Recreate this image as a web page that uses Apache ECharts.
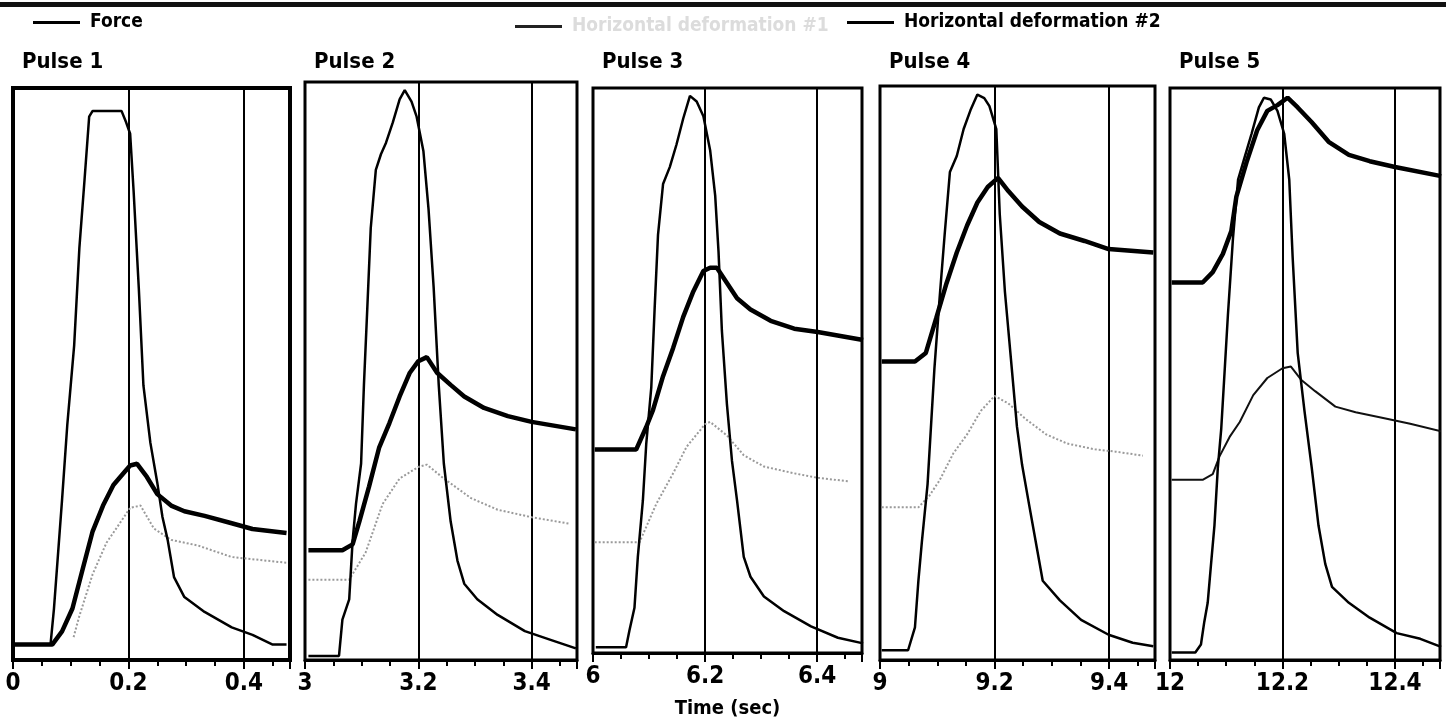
<!DOCTYPE html>
<html>
<head>
<meta charset="utf-8">
<title>Pulses</title>
<script src="https://cdn.jsdelivr.net/npm/echarts@6/dist/echarts.min.js"></script>
<style>
  html, body { margin: 0; padding: 0; background: #fff; }
  #chart { width: 1446px; height: 724px; }
</style>
</head>
<body>
<div id="chart"></div>
<script>
// time offsets of each pulse window (sec) and titles
const pulseStarts = [0, 3, 6, 9, 12]
const pulseTitles = ['Pulse 1', 'Pulse 2', 'Pulse 3', 'Pulse 4', 'Pulse 5']
const seriesNames = ['Force', 'Horizontal deformation #1', 'Horizontal deformation #2']

// values are relative (0-100) to each panel's height
const force1 = [[0.003,2.7],[0.065,2.7],[0.071,9],[0.085,28],[0.094,41],[0.106,55],[0.115,72],[0.124,84],[0.132,95],[0.138,96],[0.188,96],[0.196,94],[0.203,92],[0.209,82],[0.218,65],[0.226,48],[0.238,38],[0.25,31],[0.259,25],[0.268,21],[0.279,14.5],[0.297,11],[0.332,8.4],[0.379,5.7],[0.415,4.4],[0.45,2.7],[0.474,2.7]]
const defA1 = [[0.105,4],[0.115,7.7],[0.138,15],[0.162,20.5],[0.179,23],[0.203,26.6],[0.221,27],[0.244,23],[0.274,21],[0.321,20],[0.379,18],[0.474,17]]
const defB1 = [[0.003,2.7],[0.068,2.7],[0.085,5],[0.103,9],[0.121,16],[0.138,22.5],[0.156,27],[0.174,30.6],[0.191,32.6],[0.203,34],[0.215,34.3],[0.232,32],[0.25,29],[0.274,27],[0.297,26],[0.332,25.2],[0.379,23.9],[0.415,22.9],[0.474,22.2]]

const force2 = [[3.006,0.7],[3.06,0.7],[3.066,7],[3.078,10.5],[3.084,20.6],[3.09,27],[3.099,34],[3.104,47.6],[3.11,61],[3.116,74.7],[3.125,84.8],[3.134,87.5],[3.143,89.5],[3.155,93],[3.167,97],[3.176,98.6],[3.188,96.6],[3.197,94],[3.209,88],[3.218,78],[3.227,64.5],[3.236,47.6],[3.245,34],[3.257,24],[3.269,17.2],[3.281,13.2],[3.304,10.5],[3.34,7.8],[3.388,5],[3.436,3.4],[3.478,2]]
const defA2 = [[3.006,13.9],[3.078,13.9],[3.107,18.6],[3.137,27],[3.167,31.4],[3.2,33.4],[3.215,33.8],[3.245,31.4],[3.293,28],[3.34,26],[3.4,24.7],[3.466,23.6]]
const defB2 = [[3.006,19],[3.066,19],[3.084,20],[3.096,24],[3.113,30],[3.131,36.8],[3.149,41],[3.167,45.6],[3.185,49.7],[3.2,51.7],[3.215,52.4],[3.233,49.7],[3.257,47.6],[3.281,45.6],[3.316,43.6],[3.358,42.2],[3.4,41.2],[3.478,39.9]]

const force3 = [[6.005,1],[6.059,1],[6.065,4],[6.074,8],[6.08,17],[6.089,27],[6.095,37],[6.104,47],[6.11,61],[6.116,74],[6.125,83],[6.137,86],[6.149,90],[6.161,94.6],[6.173,98.6],[6.185,97.6],[6.197,95],[6.209,89],[6.218,81],[6.224,71],[6.23,57],[6.239,44],[6.248,34],[6.257,27],[6.269,17],[6.281,13.5],[6.305,10],[6.341,7.4],[6.389,4.7],[6.437,2.7],[6.482,1.7]]
const defA3 = [[6.003,19.6],[6.083,19.6],[6.113,26.4],[6.143,31.8],[6.167,36.5],[6.2,40.5],[6.209,40.9],[6.239,38.5],[6.269,35],[6.305,33],[6.359,31.8],[6.401,31],[6.455,30.4]]
const defB3 = [[6.003,36],[6.077,36],[6.095,40],[6.107,43],[6.125,49],[6.143,54],[6.161,59.5],[6.179,64],[6.197,67.6],[6.209,68.2],[6.221,68.2],[6.239,65.5],[6.257,62.8],[6.281,60.8],[6.317,58.8],[6.359,57.4],[6.401,56.8],[6.482,55.4]]

const force4 = [[9.003,1.7],[9.049,1.7],[9.061,5.7],[9.067,13.8],[9.073,20.5],[9.083,30.6],[9.089,40.7],[9.095,50.8],[9.104,63],[9.113,74.3],[9.122,85],[9.134,87.8],[9.146,92.5],[9.158,95.8],[9.17,98.5],[9.182,97.9],[9.191,96.5],[9.203,92.5],[9.209,77.7],[9.218,64.2],[9.23,50.8],[9.239,40.7],[9.248,34],[9.26,27.2],[9.272,20.5],[9.284,13.8],[9.314,10.4],[9.351,7],[9.399,4.4],[9.441,3],[9.477,2.4]]
const defA4 = [[9.003,26.6],[9.067,26.6],[9.086,28.6],[9.104,31.3],[9.128,36],[9.152,39.3],[9.176,43.4],[9.2,46],[9.224,44.7],[9.254,42],[9.29,39.3],[9.327,37.7],[9.375,36.7],[9.411,36.3],[9.459,35.6]]
const defB4 = [[9.003,52],[9.061,52],[9.08,53.5],[9.098,59.5],[9.116,65.6],[9.134,71],[9.152,75.7],[9.17,79.7],[9.188,82.4],[9.206,84],[9.224,81.7],[9.248,79],[9.278,76.3],[9.314,74.3],[9.357,73],[9.399,71.6],[9.477,71]]

const force5 = [[12.003,1.3],[12.045,1.3],[12.055,2.7],[12.061,6.7],[12.067,10],[12.073,16.8],[12.079,23.5],[12.085,33.6],[12.091,40.3],[12.097,50.3],[12.103,60.4],[12.112,73.8],[12.121,84],[12.133,88],[12.145,92],[12.158,96.6],[12.167,98.3],[12.179,98],[12.191,96],[12.203,92],[12.212,84],[12.218,70.5],[12.227,53.7],[12.239,43.6],[12.252,33.6],[12.264,23.5],[12.276,16.8],[12.288,12.8],[12.318,10],[12.355,7.4],[12.403,4.7],[12.445,3.7],[12.482,2.3]]
const defA5 = [[12.003,31.5],[12.058,31.5],[12.076,32.5],[12.088,35.6],[12.106,39],[12.124,41.6],[12.148,46.3],[12.173,49.3],[12.2,51],[12.215,51.3],[12.233,49],[12.258,47],[12.294,44.3],[12.33,43.3],[12.379,42.3],[12.427,41.3],[12.482,40]]
const defB5 = [[12.003,66],[12.058,66],[12.076,67.8],[12.094,71],[12.109,75],[12.118,81],[12.136,87],[12.155,92.6],[12.173,96],[12.191,97],[12.209,98.3],[12.227,96.6],[12.252,94],[12.282,90.6],[12.318,88.3],[12.355,87.2],[12.4,86.2],[12.482,84.6]]

const forceData = [force1, force2, force3, force4, force5]
const defAData = [defA1, defA2, defA3, defA4, defA5]
const defBData = [defB1, defB2, defB3, defB4, defB5]

// panel frames in px: left, width, top
const panelLeft = [13, 305, 593, 880, 1170]
const panelWidth = [277, 272, 269, 275, 270]
const panelTop = [88, 82, 88, 86, 88]
const panelBottom = 64

const FONT = "'Liberation Sans Narrow', 'DejaVu Sans Condensed', 'Roboto Condensed', sans-serif"

const chart = echarts.init(document.getElementById('chart'))

const grids = pulseStarts.map((_, i) => ({
  left: panelLeft[i],
  width: panelWidth[i],
  top: panelTop[i],
  bottom: panelBottom,
  show: true,
  borderColor: '#000',
  borderWidth: i === 0 ? 4 : 3,
  backgroundColor: 'transparent'
}))

const xAxes = pulseStarts.map((start, i) => ({
  type: 'value',
  gridIndex: i,
  min: start,
  max: start + 0.48,
  interval: 0.2,
  position: 'bottom',
  axisLine: { onZero: false, lineStyle: { color: '#000', width: 3 } },
  axisTick: { show: true, length: 9, lineStyle: { color: '#000', width: 2 } },
  minorTick: { show: true, splitNumber: 4, length: 6, lineStyle: { color: '#000', width: 2 } },
  splitLine: { show: true, lineStyle: { color: '#000', width: 2 } },
  axisLabel: {
    color: '#000',
    fontFamily: FONT,
    fontWeight: 'bold',
    fontSize: 24,
    margin: 12,
    showMaxLabel: false,
    formatter: v => String(Math.round(v * 10) / 10)
  },
  name: i === 2 ? 'Time (sec)' : '',
  nameLocation: 'middle',
  nameGap: 46,
  nameTextStyle: { color: '#000', fontFamily: FONT, fontWeight: 'bold', fontSize: 20 }
}))

const yAxes = pulseStarts.map((_, i) => ({
  type: 'value',
  gridIndex: i,
  min: 0,
  max: 100,
  show: false
}))

const series = []
pulseStarts.forEach((_, i) => {
  series.push({
    name: seriesNames[0],
    type: 'line',
    xAxisIndex: i,
    yAxisIndex: i,
    symbol: 'none',
    data: forceData[i],
    lineStyle: { color: '#000', width: 2.5 },
    itemStyle: { color: '#000' },
    z: 3
  })
  series.push({
    name: seriesNames[1],
    type: 'line',
    xAxisIndex: i,
    yAxisIndex: i,
    symbol: 'none',
    data: defAData[i],
    // last panel prints this one as a dark thin line
    lineStyle: i === 4
      ? { color: '#111', width: 2 }
      : { color: '#9a9a9a', width: 2, type: 'dotted' },
    itemStyle: { color: '#9a9a9a' },
    z: 2
  })
  series.push({
    name: seriesNames[2],
    type: 'line',
    xAxisIndex: i,
    yAxisIndex: i,
    symbol: 'none',
    data: defBData[i],
    lineStyle: { color: '#000', width: 4.5 },
    itemStyle: { color: '#000' },
    z: 4
  })
})

const legendBase = {
  orient: 'horizontal',
  icon: 'rect',
  itemWidth: 47,
  itemHeight: 3,
  itemStyle: { color: '#000' },
  textStyle: { color: '#000', fontFamily: FONT, fontWeight: 'bold', fontSize: 19, padding: [0, 0, 0, 5] }
}

chart.setOption({
  backgroundColor: '#fff',
  animation: false,
  title: pulseStarts.map((_, i) => ({
    text: pulseTitles[i],
    left: panelLeft[i] + 4,
    top: 46,
    textStyle: { color: '#000', fontFamily: FONT, fontWeight: 'bold', fontSize: 22 }
  })),
  legend: [
    Object.assign({}, legendBase, { data: [seriesNames[0]], left: 28, top: 8 }),
    Object.assign({}, legendBase, { data: [seriesNames[1]], left: 510, top: 12,
      itemStyle: { color: '#222' },
      textStyle: Object.assign({}, legendBase.textStyle, { color: '#dcdcdc' }) }),
    Object.assign({}, legendBase, { data: [seriesNames[2]], left: 842, top: 8 })
  ],
  graphic: [{
    type: 'rect',
    left: 0,
    top: 2,
    shape: { width: 1446, height: 5 },
    style: { fill: '#111' }
  }],
  grid: grids,
  xAxis: xAxes,
  yAxis: yAxes,
  series: series
})
</script>
</body>
</html>
